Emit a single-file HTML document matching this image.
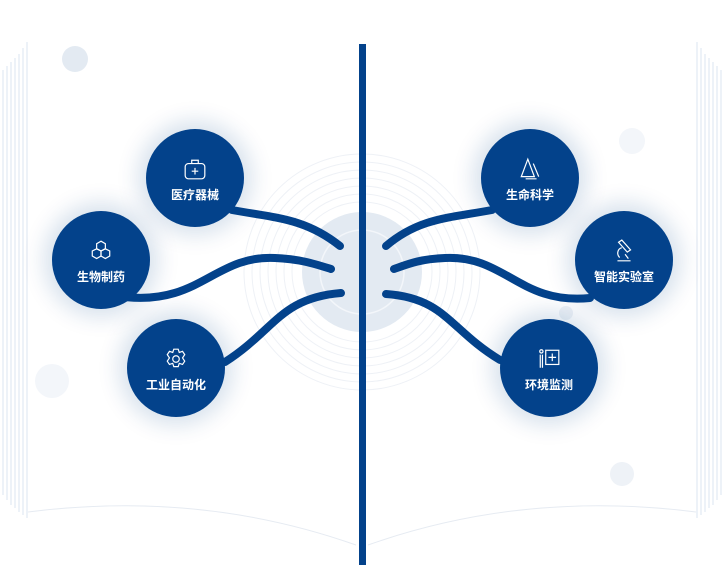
<!DOCTYPE html>
<html><head><meta charset="utf-8"><style>
html,body{margin:0;padding:0;background:#fff;}
body{width:724px;height:565px;overflow:hidden;position:relative;font-family:"Liberation Sans","Noto Sans CJK SC",sans-serif;}
.c{position:absolute;width:98px;height:98px;border-radius:50%;background:#03428b;box-shadow:0 0 22px 8px rgba(3,66,139,0.16);color:#fff;font-size:12px;font-weight:bold;text-align:center;}
.c svg{position:absolute;left:37px;top:28px;}
.c span{position:absolute;left:0;right:0;top:57px;}
</style></head><body>
<svg width="724" height="565" style="position:absolute;left:0;top:0">
  <g stroke="#dbe4f0" stroke-width="1" fill="none">
    <path d="M3 70 L3 495"/><path d="M7 66 L7 500"/><path d="M11 62 L11 505"/><path d="M15 58 L15 508"/><path d="M19 54 L19 512"/><path d="M23 48 L23 515"/><path d="M27 42 L27 518"/>
    <path d="M697 42 L697 518"/><path d="M701 48 L701 515"/><path d="M705 54 L705 512"/><path d="M709 58 L709 508"/><path d="M713 62 L713 505"/><path d="M717 66 L717 500"/><path d="M721 70 L721 495"/>
  </g>
  <path d="M28 512 Q200 490 356 545" stroke="#e6ebf2" fill="none"/>
  <path d="M368 545 Q524 490 696 512" stroke="#e6ebf2" fill="none"/>
  <circle cx="75" cy="59" r="13" fill="#e3eaf2"/>
  <circle cx="52" cy="381" r="17" fill="#f3f6fa"/>
  <circle cx="632" cy="141" r="13" fill="#f3f6fa"/>
  <circle cx="622" cy="474" r="12" fill="#eef2f7"/>
  <circle cx="566" cy="313" r="7" fill="#eef2f7"/>
  <g fill="none" stroke="#eef1f6" stroke-width="1">
    <circle cx="362" cy="272" r="70"/><circle cx="362" cy="272" r="78"/><circle cx="362" cy="272" r="86"/><circle cx="362" cy="272" r="94"/><circle cx="362" cy="272" r="102"/><circle cx="362" cy="272" r="110"/><circle cx="362" cy="272" r="118"/>
  </g>
  <circle cx="362" cy="272" r="60" fill="#e3eaf2"/>
  <circle cx="362" cy="272" r="42" fill="none" stroke="#f3f6fa" stroke-width="1.5"/>
  <rect x="359" y="44" width="7" height="521" fill="#03428b"/>
  <g fill="none" stroke="#03428b" stroke-width="8" stroke-linecap="round">
    <path d="M232 210 C275 218 305 218 340 246"/>
    <path d="M125 297 C200 305 215 255 275 258 C300 259 315 264 331 269"/>
    <path d="M225 362 C275 330 280 298 341 293"/>
    <path d="M492 210 C449 218 419 218 386 246"/>
    <path d="M590 298 C520 305 505 255 445 258 C420 259 408 264 394 269"/>
    <path d="M500 360 C450 330 445 298 386 294"/>
  </g>
</svg>
<div class="c" style="left:146px;top:129px"><svg width="24" height="24" viewBox="0 0 22 22" fill="none" stroke="#fff" stroke-width="1.1"><rect x="2" y="6" width="18" height="14" rx="3"/><path d="M8 6V3h6v3M11 10v6M8 13h6"/></svg><span>医疗器械</span></div>
<div class="c" style="left:52px;top:211px"><svg width="24" height="24" viewBox="0 0 22 22" fill="none" stroke="#fff" stroke-width="1.1"><path d="M11 2l4 2.3v4.6L11 11 7 8.9V4.3z"/><path d="M7 9l4 2v4.6l-4 2.3-4-2.3V11z"/><path d="M15 9l4 2v4.6l-4 2.3-4-2.3V11z"/></svg><span>生物制药</span></div>
<div class="c" style="left:127px;top:319px"><svg width="24" height="24" viewBox="0 0 22 22" fill="none" stroke="#fff" stroke-width="1.1"><path d="M9 2h4l1 3 3-1 2 3-2 3 2 3-2 3-3-1-1 3H9l-1-3-3 1-2-3 2-3-2-3 2-3 3 1z"/><circle cx="11" cy="11" r="3"/></svg><span>工业自动化</span></div>
<div class="c" style="left:481px;top:129px"><svg width="24" height="24" viewBox="0 0 22 22" fill="none" stroke="#fff" stroke-width="1.1"><path d="M9 2l-6 16h12zM14 6l5 12M7 20h10"/></svg><span>生命科学</span></div>
<div class="c" style="left:575px;top:211px"><svg width="24" height="24" viewBox="0 0 22 22" fill="none" stroke="#fff" stroke-width="1.1"><path d="M6 3l8 9 3-2-8-9zM9 8c-4 1-5 6-2 9M5 20h12M12 14l3 4"/></svg><span>智能实验室</span></div>
<div class="c" style="left:500px;top:319px"><svg width="24" height="24" viewBox="0 0 22 22" fill="none" stroke="#fff" stroke-width="1.1"><rect x="8" y="3" width="12" height="13"/><path d="M14 6v7M10.5 9.5h7"/><circle cx="4" cy="4" r="1.5"/><path d="M3 7v12M5 7v12"/></svg><span>环境监测</span></div>
</body></html>
